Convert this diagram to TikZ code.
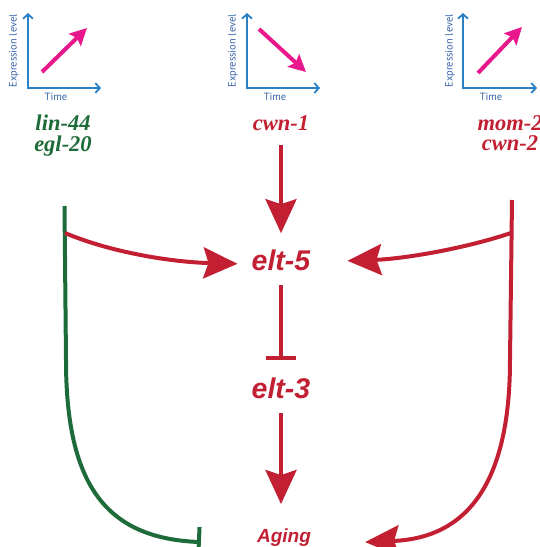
\documentclass[tikz,border=0pt]{standalone}
\usepackage{fontspec}
\setmainfont{Liberation Serif}
\newfontfamily\eltsans{Liberation Sans}
\newfontfamily\axisfont{PT Sans}
\usetikzlibrary{arrows.meta,calc}
\definecolor{myred}{HTML}{C21F32}
\definecolor{mygreen}{HTML}{1D6B38}
\definecolor{axisblue}{HTML}{2780C8}
\definecolor{labelblue}{HTML}{3560A8}
\definecolor{mymagenta}{HTML}{E8188C}
\begin{document}
\begin{tikzpicture}[x=1pt,y=1pt,
  axis/.style={draw=axisblue, line width=1.8pt, {Straight Barb[length=4.5pt,width=10pt]}-{Straight Barb[length=4.5pt,width=10pt]}},
  trend/.style={draw=mymagenta, line width=4pt, -{Stealth[length=17pt,width=17pt,inset=3pt]}},
  axlabel/.style={font=\axisfont\fontsize{10.5}{12}\selectfont, text=labelblue, inner sep=0pt},
  gene/.style={font=\fontsize{22.5}{20.5}\selectfont\bfseries\itshape, inner sep=0pt, align=center},
  elt/.style={font=\eltsans\fontsize{28.5}{30}\selectfont\bfseries\itshape, text=myred, inner sep=0pt},
  act/.style={draw=myred, line width=4pt, -{Stealth[length=34pt,width=31pt,inset=5pt]}},
  inh/.style={line width=4pt, -{Bar[width=30pt]}},
]
\useasboundingbox (0,0) rectangle (539,-547);
\clip (0,0) rectangle (539,-547);

% ---- expression plots ----
\draw[axis] (28,-13) -- (28,-88) -- (101,-88);
\draw[trend] (42,-72) -- (87,-28);
\node[axlabel, rotate=90] (ex1) at (14,-51) {Expression level};
\node[axlabel] (t1) at (56,-97) {Time};

\draw[axis] (247,-13) -- (247,-88) -- (320,-88);
\draw[trend] (259,-29) -- (306,-72);
\node[axlabel, rotate=90] (ex2) at (233,-51) {Expression level};
\node[axlabel] (t2) at (275,-97) {Time};

\draw[axis] (463,-13) -- (463,-88) -- (537,-88);
\draw[trend] (478,-73) -- (522,-27);
\node[axlabel, rotate=90] (ex3) at (450,-51) {Expression level};
\node[axlabel] (t3) at (491,-97) {Time};

% ---- gene names ----
\node[gene, text=mygreen, anchor=north] (lin) at (63,-115) {lin-44\\egl-20};
\node[gene, text=myred, anchor=base] (cwn1) at (281,-130) {cwn-1};
\node[gene, text=myred, anchor=north] (mom) at (510,-115) {mom-2\\cwn-2};

% ---- central nodes ----
\node[elt, anchor=base] (elt5) at (281,-270) {elt-5};
\node[elt, anchor=base] (elt3) at (281,-398) {elt-3};
\node[elt, font=\eltsans\fontsize{19}{20}\selectfont\bfseries\itshape, anchor=base] (aging) at (284,-542) {Aging};

% ---- side lines ----
\coordinate (gtop) at (64.5,-206);
\coordinate (gbranch) at (65,-233);
\coordinate (gmid) at (66,-360);
\coordinate (rtop) at (512,-200);
\coordinate (rbranch) at (511,-233);
\coordinate (rmid) at (510,-360);

\draw[inh, draw=mygreen] (gtop) -- (gmid) .. controls (66,-485) and (106,-538) .. ($(aging.west)+(-56,-5)$);
\draw[act] (rtop) -- (rmid) .. controls (510,-485) and (466,-538) .. ($(aging.east)+(54,-5)$);

% ---- branches ----
\draw[act] (gbranch) .. controls (110,-252) and (170,-262) .. ($(elt5.west)+(-14,-4)$);
\draw[act] (rbranch) .. controls (460,-250) and (400,-259) .. ($(elt5.east)+(37,-1)$);

% ---- central chain ----
\draw[act, shorten <=15pt, shorten >=16pt] (cwn1.south) -- (cwn1.south |- elt5.north);
\draw[inh, draw=myred, shorten <=15pt, shorten >=17pt] (elt5.south) -- (elt5.south |- elt3.north);
\draw[act, shorten <=15pt, shorten >=24pt] (elt3.south) -- (elt3.south |- aging.north);
\end{tikzpicture}
\end{document}
